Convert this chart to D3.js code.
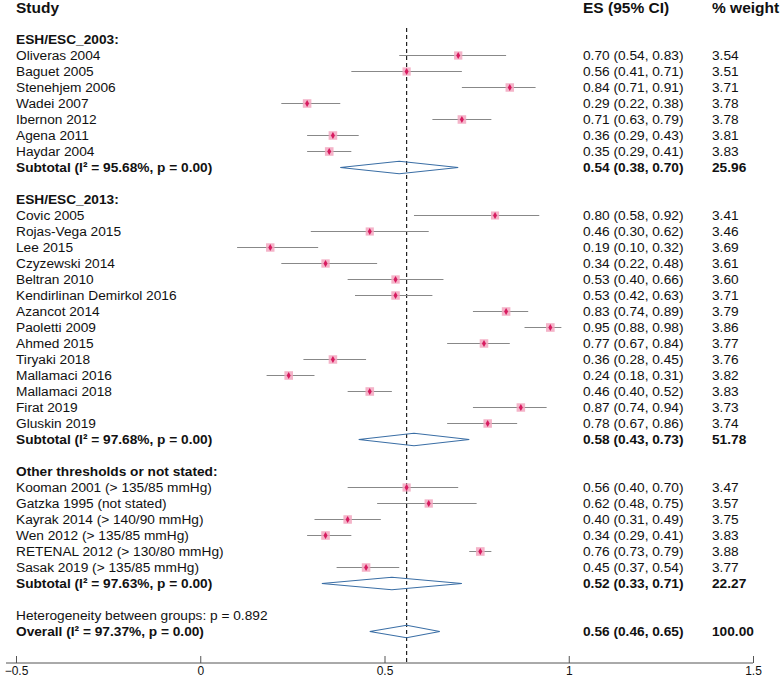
<!DOCTYPE html>
<html>
<head>
<meta charset="utf-8">
<script src="https://cdn.jsdelivr.net/npm/d3@7"></script>
<style>
  html, body { margin: 0; padding: 0; background: #fff; }
  svg { display: block; font-family: "Liberation Sans", Arial, sans-serif; }
</style>
</head>
<body>
<svg id="chart" width="780" height="678"></svg>
<script>
// ---------------- DATA ----------------
const groupNames = ["ESH/ESC_2003:", "ESH/ESC_2013:", "Other thresholds or not stated:"];

const studyNames = [
  "Oliveras 2004", "Baguet 2005", "Stenehjem 2006", "Wadei 2007", "Ibernon 2012", "Agena 2011", "Haydar 2004",
  "Covic 2005", "Rojas-Vega 2015", "Lee 2015", "Czyzewski 2014", "Beltran 2010", "Kendirlinan Demirkol 2016",
  "Azancot 2014", "Paoletti 2009", "Ahmed 2015", "Tiryaki 2018", "Mallamaci 2016", "Mallamaci 2018",
  "Firat 2019", "Gluskin 2019",
  "Kooman 2001 (> 135/85 mmHg)", "Gatzka 1995 (not stated)", "Kayrak 2014 (> 140/90 mmHg)",
  "Wen 2012 (> 135/85 mmHg)", "RETENAL 2012 (> 130/80 mmHg)", "Sasak 2019 (> 135/85 mmHg)"
];
const studyGroup = [0,0,0,0,0,0,0, 1,1,1,1,1,1,1,1,1,1,1,1,1,1, 2,2,2,2,2,2];
const studyES  = [0.70,0.56,0.84,0.29,0.71,0.36,0.35, 0.80,0.46,0.19,0.34,0.53,0.53,0.83,0.95,0.77,0.36,0.24,0.46,0.87,0.78, 0.56,0.62,0.40,0.34,0.76,0.45];
const studyLo  = [0.54,0.41,0.71,0.22,0.63,0.29,0.29, 0.58,0.30,0.10,0.22,0.40,0.42,0.74,0.88,0.67,0.28,0.18,0.40,0.74,0.67, 0.40,0.48,0.31,0.29,0.73,0.37];
const studyHi  = [0.83,0.71,0.91,0.38,0.79,0.43,0.41, 0.92,0.62,0.32,0.48,0.66,0.63,0.89,0.98,0.84,0.45,0.31,0.52,0.94,0.86, 0.70,0.75,0.49,0.41,0.79,0.54];
const studyWeight = [3.54,3.51,3.71,3.78,3.78,3.81,3.83, 3.41,3.46,3.69,3.61,3.60,3.71,3.79,3.86,3.77,3.76,3.82,3.83,3.73,3.74, 3.47,3.57,3.75,3.83,3.88,3.77];

const subtotalLabels = ["Subtotal  (I\u00B2 = 95.68%, p = 0.00)", "Subtotal  (I\u00B2 = 97.68%, p = 0.00)", "Subtotal  (I\u00B2 = 97.63%, p = 0.00)"];
const subtotalES = [0.54, 0.58, 0.52];
const subtotalLo = [0.38, 0.43, 0.33];
const subtotalHi = [0.70, 0.73, 0.71];
const subtotalWeight = [25.96, 51.78, 22.27];

const heterogeneityLabel = "Heterogeneity between groups: p = 0.892";
const overallLabel = "Overall  (I\u00B2 = 97.37%, p = 0.00)";
const overallES = 0.56, overallLo = 0.46, overallHi = 0.65, overallWeight = 100.00;

const tickValues = [-0.5, 0, 0.5, 1, 1.5];
const tickLabels = ["\u22120.5", "0", "0.5", "1", "1.5"];
const headers = ["Study", "ES (95% CI)", "% weight"];

// ---------------- BUILD ROWS ----------------
const rows = [];
groupNames.forEach((g, gi) => {
  rows.push({type: "group", label: g});
  studyNames.forEach((s, i) => {
    if (studyGroup[i] === gi) rows.push({type: "study", label: s, es: studyES[i], lo: studyLo[i], hi: studyHi[i], w: studyWeight[i]});
  });
  rows.push({type: "subtotal", label: subtotalLabels[gi], es: subtotalES[gi], lo: subtotalLo[gi], hi: subtotalHi[gi], w: subtotalWeight[gi]});
  rows.push({type: "blank"});
});
rows.push({type: "het", label: heterogeneityLabel});
rows.push({type: "overall", label: overallLabel, es: overallES, lo: overallLo, hi: overallHi, w: overallWeight});
rows.forEach((r, i) => r.idx = i);

// ---------------- SCALES ----------------
const svg = d3.select("#chart");
const x = d3.scaleLinear().domain([-0.5, 1.5]).range([16, 753]);
const y = d3.scaleLinear().domain([0, rows.length - 1]).range([39.5, 39.5 + 16 * (rows.length - 1)]);
const axisY = 663;
const markerSize = d3.scaleSqrt().domain([0, 4]).range([0, 8.8]);
const fmt = d3.format(".2f");
const esText = r => `${fmt(r.es)} (${fmt(r.lo)}, ${fmt(r.hi)})`;

const textX = 16, esX = 583, wX = 712;
const fs = "13.7px";

// headers
svg.append("g").selectAll("text").data(headers).join("text")
  .attr("x", (d, i) => [textX, esX, wX][i])
  .attr("y", 13)
  .style("font-size", "15.5px").style("font-weight", "bold").attr("fill", "#111")
  .text(d => d);

// dashed overall line
svg.append("line")
  .attr("x1", x(overallES)).attr("x2", x(overallES))
  .attr("y1", 28).attr("y2", axisY)
  .attr("stroke", "#222").attr("stroke-width", 1.2).attr("stroke-dasharray", "4,3");

// CI lines
const studies = rows.filter(r => r.type === "study");
svg.append("g").selectAll("line").data(studies).join("line")
  .attr("x1", d => x(d.lo)).attr("x2", d => x(d.hi))
  .attr("y1", d => y(d.idx)).attr("y2", d => y(d.idx))
  .attr("stroke", "#888").attr("stroke-width", 1);

// weight squares
svg.append("g").selectAll("rect").data(studies).join("rect")
  .attr("x", d => x(d.es) - markerSize(d.w) / 2)
  .attr("y", d => y(d.idx) - markerSize(d.w) / 2)
  .attr("width", d => markerSize(d.w)).attr("height", d => markerSize(d.w))
  .attr("fill", "#f2a7c0").attr("fill-opacity", 0.85);

// center points
svg.append("g").selectAll("path").data(studies).join("path")
  .attr("d", d => d3.symbol(d3.symbolDiamond, 14)())
  .attr("transform", d => `translate(${x(d.es)},${y(d.idx)})`)
  .attr("fill", "#d81b60");

// diamonds
const pooled = rows.filter(r => r.type === "subtotal" || r.type === "overall");
svg.append("g").selectAll("path").data(pooled).join("path")
  .attr("d", d => {
    const cy = y(d.idx), h = 6.3;
    return `M${x(d.lo)},${cy}L${x(d.es)},${cy - h}L${x(d.hi)},${cy}L${x(d.es)},${cy + h}Z`;
  })
  .attr("fill", "none").attr("stroke", "#3a6ea5").attr("stroke-width", 1.1);

// labels
const labelled = rows.filter(r => r.type !== "blank");
svg.append("g").selectAll("text").data(labelled).join("text")
  .attr("x", textX).attr("y", d => y(d.idx)).attr("dy", "0.35em")
  .style("font-size", fs)
  .style("font-weight", d => (d.type === "group" || d.type === "subtotal" || d.type === "overall") ? "bold" : "normal")
  .attr("fill", "#111")
  .text(d => d.label);

const valued = rows.filter(r => r.es !== undefined);
svg.append("g").selectAll("text").data(valued).join("text")
  .attr("x", esX).attr("y", d => y(d.idx)).attr("dy", "0.35em")
  .style("font-size", fs)
  .style("font-weight", d => d.type === "study" ? "normal" : "bold")
  .attr("fill", "#111")
  .text(esText);

svg.append("g").selectAll("text").data(valued).join("text")
  .attr("x", wX).attr("y", d => y(d.idx)).attr("dy", "0.35em")
  .style("font-size", fs)
  .style("font-weight", d => d.type === "study" ? "normal" : "bold")
  .attr("fill", "#111")
  .text(d => fmt(d.w));

// axis
const axis = d3.axisTop(x).tickValues(tickValues).tickSize(7).tickFormat((d, i) => tickLabels[i]);
const ag = svg.append("g").attr("transform", `translate(0,${axisY})`).call(axis);
ag.select(".domain").attr("d", `M6,0H${x(1.5)}`).attr("stroke", "#555");
ag.selectAll(".tick line").attr("stroke", "#555");
ag.selectAll(".tick text")
  .attr("y", 7.5).attr("dy", "0.35em")
  .style("font-size", "12px").style("font-family", "'Liberation Sans', Arial, sans-serif").attr("fill", "#111");
</script>
</body>
</html>
